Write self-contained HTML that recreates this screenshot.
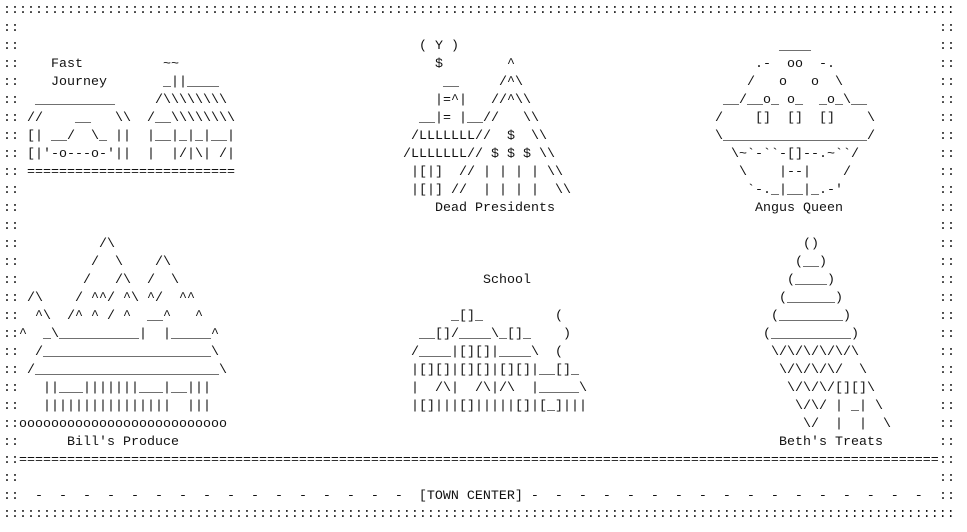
<!DOCTYPE html>
<html><head><meta charset="utf-8"><style>
html,body{margin:0;padding:0;background:#fff;width:967px;height:532px;overflow:hidden}
#c{position:relative;top:2px;width:967px;height:530px}
#c i{position:absolute;font-style:normal;white-space:pre;font-family:"Liberation Mono",monospace;font-size:13.333px;line-height:18px;color:#111}
</style></head><body><div id="c">
<i style="left:3px;top:0px">:::::::::::::::::::::::::::::::::::::::::::::::::::::::::::::::::::::::::::::::::::::::::::::::::::::::::::::::::::::::</i>
<i style="left:3px;top:18px">::
::
::
::
::
::
::
::
::
::
::
::
::
::
::
::
::
::
::
::
::
::
::
::
::
::
::</i>
<i style="left:939px;top:18px">::
::
::
::
::
::
::
::
::
::
::
::
::
::
::
::
::
::
::
::
::
::
::
::
::
::
::</i>
<i style="left:3px;top:504px">:::::::::::::::::::::::::::::::::::::::::::::::::::::::::::::::::::::::::::::::::::::::::::::::::::::::::::::::::::::::</i>
<i style="left:19px;top:450px">===================================================================================================================</i>
<i style="left:35px;top:486px">-  -  -  -  -  -  -  -  -  -  -  -  -  -  -  -  [TOWN CENTER] -  -  -  -  -  -  -  -  -  -  -  -  -  -  -  -  -</i>

<i style="left:51px;top:54px">Fast</i>
<i style="left:163px;top:54px">~~</i>
<i style="left:51px;top:72px">Journey</i>
<i style="left:163px;top:72px">_||____</i>
<i style="left:35px;top:90px">__________</i>
<i style="left:155px;top:90px">/\\\\\\\\</i>
<i style="left:27px;top:108px">//    __   \\</i>
<i style="left:147px;top:108px">/__\\\\\\\\</i>
<i style="left:27px;top:126px">[| __/  \_ ||</i>
<i style="left:147px;top:126px">|__|_|_|__|</i>
<i style="left:27px;top:144px">[|'-o---o-'||</i>
<i style="left:147px;top:144px">|  |/|\| /|</i>
<i style="left:27px;top:162px">==========================</i>

<i style="left:419px;top:36px">( Y )</i>
<i style="left:435px;top:54px">$</i>
<i style="left:507px;top:54px">^</i>
<i style="left:443px;top:72px">__</i>
<i style="left:499px;top:72px">/^\</i>
<i style="left:435px;top:90px">|=^|</i>
<i style="left:491px;top:90px">//^\\</i>
<i style="left:419px;top:108px">__|= |__//</i>
<i style="left:523px;top:108px">\\</i>
<i style="left:411px;top:126px">/LLLLLLL//  $  \\</i>
<i style="left:403px;top:144px">/LLLLLLL// $ $ $ \\</i>
<i style="left:411px;top:162px">|[|]  // | | | | \\</i>
<i style="left:411px;top:180px">|[|] //  | | | |  \\</i>
<i style="left:435px;top:198px">Dead Presidents</i>

<i style="left:779px;top:36px">____</i>
<i style="left:755px;top:54px">.-  oo  -.</i>
<i style="left:747px;top:72px">/   o   o  \</i>
<i style="left:723px;top:90px">__/__o_ o_  _o_\__</i>
<i style="left:715px;top:108px">/    []  []  []    \</i>
<i style="left:715px;top:126px">\__________________/</i>
<i style="left:731px;top:144px">\~`-``-[]--.~``/</i>
<i style="left:739px;top:162px">\    |--|    /</i>
<i style="left:747px;top:180px">`-._|__|_.-'</i>
<i style="left:755px;top:198px">Angus Queen</i>

<i style="left:99px;top:234px">/\</i>
<i style="left:91px;top:252px">/  \</i>
<i style="left:155px;top:252px">/\</i>
<i style="left:83px;top:270px">/   /\  /  \</i>
<i style="left:27px;top:288px">/\    / ^^/ ^\ ^/  ^^</i>
<i style="left:35px;top:306px">^\  /^ ^ / ^  __^   ^</i>
<i style="left:19px;top:324px">^  _\__________|  |_____^</i>
<i style="left:35px;top:342px">/_____________________\</i>
<i style="left:27px;top:360px">/_______________________\</i>
<i style="left:43px;top:378px">||___|||||||___|__|||</i>
<i style="left:43px;top:396px">||||||||||||||||  |||</i>
<i style="left:19px;top:414px">oooooooooooooooooooooooooo</i>
<i style="left:67px;top:432px">Bill's Produce</i>

<i style="left:483px;top:270px">School</i>
<i style="left:451px;top:306px">_[]_</i>
<i style="left:555px;top:306px">(</i>
<i style="left:419px;top:324px">__[]/____\_[]_</i>
<i style="left:563px;top:324px">)</i>
<i style="left:411px;top:342px">/____|[][]|____\  (</i>
<i style="left:411px;top:360px">|[][]|[][]|[][]|__[]_</i>
<i style="left:411px;top:378px">|  /\|  /\|/\  |_____\</i>
<i style="left:411px;top:396px">|[]|||[]|||||[]|[_]|||</i>

<i style="left:803px;top:234px">()</i>
<i style="left:795px;top:252px">(__)</i>
<i style="left:787px;top:270px">(____)</i>
<i style="left:779px;top:288px">(______)</i>
<i style="left:771px;top:306px">(________)</i>
<i style="left:763px;top:324px">(__________)</i>
<i style="left:771px;top:342px">\/\/\/\/\/\</i>
<i style="left:779px;top:360px">\/\/\/\/  \</i>
<i style="left:787px;top:378px">\/\/\/[][]\</i>
<i style="left:795px;top:396px">\/\/ | _| \</i>
<i style="left:803px;top:414px">\/  |  |  \</i>
<i style="left:779px;top:432px">Beth's Treats</i>
</div></body></html>
